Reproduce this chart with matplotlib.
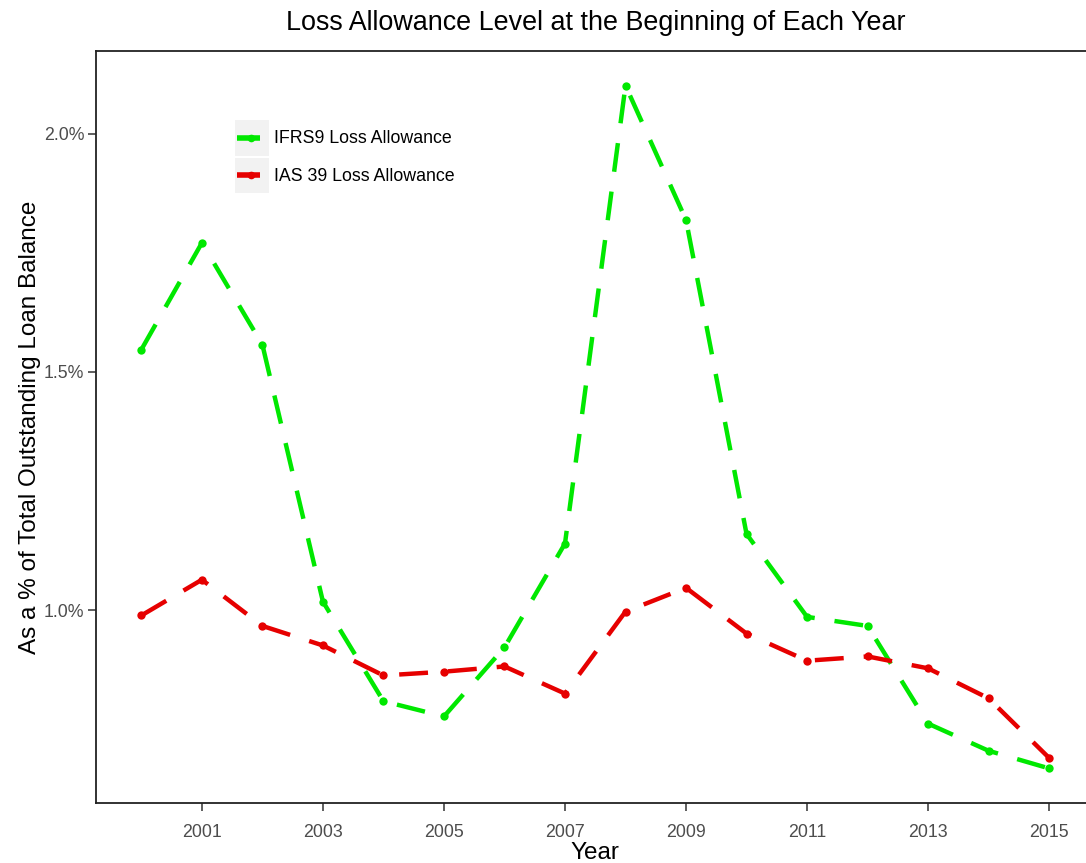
import matplotlib
matplotlib.use("Agg")
import matplotlib.pyplot as plt
from matplotlib.patches import Rectangle
from matplotlib.lines import Line2D
from matplotlib.ticker import FuncFormatter

plt.rcParams['font.family'] = ['Liberation Sans', 'DejaVu Sans']

years = [2000, 2001, 2002, 2003, 2004, 2005, 2006, 2007,
         2008, 2009, 2010, 2011, 2012, 2013, 2014, 2015]
ifrs9 = [1.547, 1.771, 1.557, 1.018, 0.809, 0.777, 0.922, 1.140,
         2.101, 1.819, 1.160, 0.986, 0.967, 0.762, 0.705, 0.668]
ias39 = [0.989, 1.064, 0.967, 0.926, 0.863, 0.871, 0.882, 0.825,
         0.997, 1.047, 0.951, 0.894, 0.903, 0.878, 0.815, 0.690]
xticks = [2001, 2003, 2005, 2007, 2009, 2011, 2013, 2015]
yticks = [1.0, 1.5, 2.0]

green = '#00E800'
red = '#E60000'


class KeyHandler:
    """Grey key background with a short line and a point, ggplot-style."""
    def legend_artist(self, legend, orig_handle, fontsize, handlebox):
        x0, y0 = handlebox.xdescent, handlebox.ydescent
        w, h = handlebox.width, handlebox.height
        tr = handlebox.get_transform()
        rect = Rectangle((-x0, -y0), w, h, facecolor='#F2F2F2', edgecolor='none',
                         transform=tr)
        yc = -y0 + h / 2
        c = orig_handle.get_color()
        line = Line2D([-x0 + 0.06 * w, -x0 + 0.74 * w], [yc, yc], color=c, lw=4,
                      solid_capstyle='butt', transform=tr)
        pt = Line2D([-x0 + 0.47 * w], [yc], color=c, marker='o', ms=5.5,
                    markeredgewidth=0, linestyle='none', transform=tr)
        handlebox.add_artist(rect)
        handlebox.add_artist(line)
        handlebox.add_artist(pt)
        return rect


fig = plt.figure(figsize=(10.86, 8.63), dpi=100)
ax = fig.add_axes([96/1086, 60/863, (1094.5-96)/1086, (803-51)/863])

lw = 3.2
dash = (6.5, 4.5)
l1, = ax.plot(years, ifrs9, color=green, lw=lw, dashes=dash, dash_capstyle='butt',
              marker='o', ms=6, markeredgewidth=0, label='IFRS9 Loss Allowance')
l2, = ax.plot(years, ias39, color=red, lw=lw, dashes=dash, dash_capstyle='butt',
              marker='o', ms=6, markeredgewidth=0, label='IAS 39 Loss Allowance')

ax.set_xlim(1999.25, 2015.75)
ax.set_ylim(0.5954, 2.1736)
ax.set_xticks(xticks)
ax.set_yticks(yticks)
ax.yaxis.set_major_formatter(FuncFormatter(lambda v, p: f"{v:.1f}%"))
ax.tick_params(axis='both', colors='#333333', labelcolor='#4D4D4D', labelsize=12.8,
               length=6, width=1.1)
ax.tick_params(axis='x', pad=9)
ax.tick_params(axis='y', pad=2.5)
for s in ax.spines.values():
    s.set_linewidth(1.3)
    s.set_color('#222222')

ax.set_xlabel('Year', fontsize=17.5, labelpad=1)
ax.set_ylabel('As a % of Total Outstanding Loan Balance', fontsize=17.5, labelpad=2)
fig.suptitle('Loss Allowance Level at the Beginning of Each Year', fontsize=19.4,
             x=(96+1094.5)/2/1086, y=1-23/863, va='center')

handler = KeyHandler()
leg = ax.legend([l1, l2], ['IFRS9 Loss Allowance', 'IAS 39 Loss Allowance'],
                handler_map={l1: handler, l2: handler},
                loc='upper left', bbox_to_anchor=((235-96)/998.5, 1-(120-51)/752),
                frameon=False, fontsize=12.8, handlelength=1.9, handleheight=2.7,
                labelspacing=0.12, handletextpad=0.3, borderpad=0, borderaxespad=0)

fig.savefig('out.png', dpi=100, facecolor='white')
